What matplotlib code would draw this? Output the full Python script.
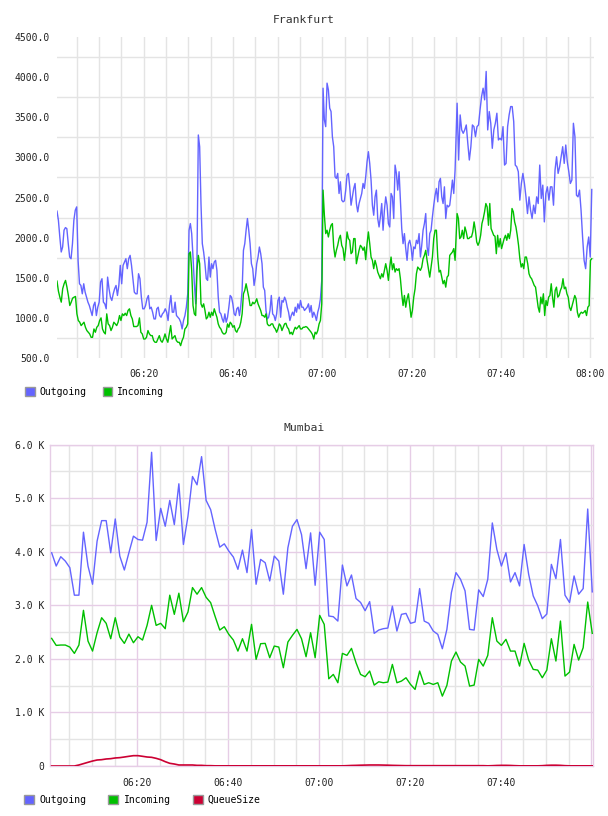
import matplotlib
matplotlib.use("Agg")
import matplotlib.pyplot as plt
from matplotlib.patches import Patch
import numpy as np

# Frankfurt: minutes after 06:00, read in four half-hour pieces
fra_windows = [(0.58, 29.85), (30.14, 59.85), (60.14, 89.7), (90.15, 120.3)]

fra_out_a = [2330, 2217, 2008, 1821, 1883, 2092, 2125, 2112, 1925, 1758, 1737, 1925, 2217, 2342, 2383,
             1717, 1425, 1404, 1300, 1425, 1321, 1258, 1196, 1154, 1092, 1029, 1154, 1196, 1029, 1133,
             1196, 1446, 1488, 1196, 1175, 1113, 1508, 1363, 1258, 1217, 1300, 1363, 1404, 1279, 1404,
             1654, 1425, 1654, 1696, 1737, 1613, 1737, 1779, 1654, 1488, 1321, 1300, 1300, 1550, 1488,
             1258, 1113, 1113, 1154, 1238, 1279, 1113, 1133, 1071, 987, 987, 1113, 1133, 1029, 1008,
             1050, 1071, 1113, 1071, 967, 1154, 1279, 1071, 1071, 1196, 1029, 1008, 987, 946, 862,
             967, 1029, 1133, 1300]
fra_out_b = [2092, 2175, 2050, 1758, 1425, 1175, 1758, 3279, 3133, 2425, 1925, 1821, 1675, 1488, 1467,
             1758, 1508, 1675, 1613, 1696, 1717, 1592, 1258, 1071, 1050, 987, 946, 1050, 946, 1008,
             1133, 1279, 1258, 1175, 1050, 1029, 1113, 1133, 1029, 1154, 1342, 1842, 1925, 2092, 2238,
             2092, 1925, 1675, 1613, 1404, 1508, 1675, 1758, 1883, 1800, 1675, 1383, 1342, 1092, 987,
             1008, 1092, 1279, 1050, 1029, 967, 1050, 1217, 1258, 1008, 1217, 1196, 1258, 1217, 1133,
             1071, 967, 1029, 1071, 1029, 1133, 1071, 1175, 1113, 1217, 1133, 1133, 1092, 1113, 1133,
             1175, 1071, 1154, 1008, 1071, 1029, 967, 1071, 1133, 1238, 1467]
fra_out_c = [3862, 3467, 3383, 3925, 3842, 3613, 3571, 3258, 3133, 2758, 2738, 2800, 2550, 2696, 2467,
             2446, 2458, 2592, 2779, 2800, 2633, 2404, 2508, 2613, 2675, 2425, 2321, 2425, 2488, 2550,
             2675, 2613, 2758, 2946, 3071, 2925, 2717, 2404, 2279, 2508, 2592, 2238, 2133, 2258, 2425,
             2092, 2342, 2508, 2404, 2175, 2133, 2550, 2508, 2238, 2904, 2800, 2592, 2821, 2467, 2113,
             1925, 2050, 1863, 1717, 1925, 1967, 1883, 1717, 1883, 1863, 1967, 1925, 2050, 1758, 1904,
             2092, 2175, 2300, 1883, 1779, 2050, 2092, 2258, 2404, 2529, 2613, 2446, 2696, 2738, 2508,
             2425, 2633, 2238, 2404, 2383, 2404, 2550, 2717, 2550, 2842]
fra_out_d = [3675, 2967, 3529, 3342, 3300, 3342, 3404, 3175, 2967, 3133, 3404, 3383, 3258, 3383, 3404,
             3592, 3758, 3862, 3717, 4071, 3342, 3571, 3425, 3113, 3342, 3425, 3550, 3217, 3238, 3217,
             3383, 2904, 2925, 3383, 3529, 3633, 3633, 3446, 2904, 2883, 2821, 2467, 2675, 2800, 2675,
             2508, 2300, 2508, 2342, 2238, 2404, 2300, 2508, 2425, 2904, 2488, 2654, 2196, 2550, 2633,
             2467, 2633, 2633, 2404, 2842, 3008, 2800, 2883, 3008, 3133, 2925, 3154, 2946, 2821, 2675,
             2717, 3425, 3258, 2529, 2508, 2592, 2342, 2008, 1717, 1613, 1883, 2008, 1758, 2600]

fra_in_a = [1458, 1333, 1258, 1196, 1363, 1425, 1467, 1383, 1279, 1154, 1196, 1246, 1258, 1267, 1050,
            967, 946, 904, 925, 946, 883, 842, 821, 800, 758, 758, 862, 821, 883, 904,
            967, 1000, 862, 821, 800, 1050, 925, 904, 842, 883, 946, 925, 904, 946, 1029,
            967, 1050, 1029, 1058, 1029, 1092, 1113, 1029, 987, 892, 892, 892, 904, 1000, 821,
            800, 737, 737, 758, 842, 800, 779, 779, 717, 696, 696, 737, 779, 717, 696,
            737, 800, 737, 696, 800, 904, 737, 758, 779, 717, 696, 696, 654, 717, 758,
            862, 883, 925]
fra_in_b = [1800, 1821, 1592, 1154, 1050, 1029, 1592, 1779, 1675, 1175, 1133, 1175, 1092, 987, 1008,
            1071, 1008, 1071, 1029, 1113, 1058, 1008, 925, 883, 862, 821, 800, 800, 821, 925,
            883, 946, 925, 883, 904, 842, 821, 862, 883, 946, 1050, 1300, 1342, 1425, 1342,
            1258, 1154, 1154, 1196, 1175, 1196, 1238, 1175, 1133, 1092, 1029, 1029, 1008, 1050, 925,
            904, 904, 925, 925, 883, 862, 821, 862, 925, 904, 842, 883, 925, 933, 883,
            862, 800, 821, 792, 842, 883, 862, 883, 904, 862, 862, 883, 883, 892, 883,
            862, 842, 821, 792, 737, 821, 800, 842, 925, 967, 1175]
fra_in_c = [2592, 2279, 2050, 2092, 2008, 2092, 2154, 2175, 1883, 1758, 1842, 1904, 1988, 2029, 1904,
            1863, 1717, 1863, 2071, 1988, 1967, 1800, 1821, 1988, 1988, 1675, 1758, 1842, 1904, 1883,
            1842, 1883, 1725, 1925, 2071, 1925, 1758, 1717, 1613, 1717, 1654, 1571, 1529, 1488, 1550,
            1508, 1592, 1675, 1592, 1467, 1633, 1758, 1600, 1675, 1571, 1613, 1592, 1613, 1488, 1300,
            1154, 1279, 1133, 1238, 1300, 1154, 1008, 1092, 1258, 1363, 1550, 1633, 1613, 1592, 1633,
            1737, 1779, 1842, 1717, 1613, 1508, 1633, 1758, 1988, 2092, 2092, 1758, 1571, 1592, 1508,
            1425, 1467, 1383, 1508, 1529, 1779, 1800, 1821, 1863, 1717]
fra_in_d = [2300, 2238, 1988, 2008, 2092, 1988, 2133, 2071, 1988, 1988, 2008, 2008, 2071, 2196, 2092,
            1946, 1904, 1946, 2029, 2175, 2238, 2321, 2425, 2383, 2154, 2425, 2113, 2071, 2029, 2017,
            1800, 2029, 1883, 1988, 1863, 1925, 1988, 2029, 1967, 2050, 1988, 2092, 2363, 2321, 2196,
            2133, 2029, 1904, 1737, 1633, 1675, 1613, 1758, 1758, 1675, 1550, 1508, 1488, 1446, 1404,
            1383, 1258, 1133, 1071, 1258, 1175, 1300, 1029, 1217, 1154, 1258, 1279, 1425, 1258, 1133,
            1342, 1383, 1258, 1279, 1342, 1383, 1488, 1363, 1383, 1300, 1258, 1133, 1092, 1154, 1217,
            1279, 1238, 1071, 1008, 1050, 1071, 1058, 1071, 1092, 1029, 1133, 1154, 1717, 1737]

# Mumbai: one sample per minute
mum_outgoing = [3982, 3734, 3908, 3827, 3704, 3190, 3190, 4366, 3734, 3394,
                4199, 4582, 4582, 3982, 4613, 3920, 3660, 3982, 4292, 4230,
                4217, 4552, 5858, 4211, 4812, 4477, 4960, 4508, 5270, 4137,
                4663, 5406, 5251, 5777, 4960, 4787, 4415, 4087, 4149, 4013,
                3902, 3673, 4032, 3611, 4415, 3394, 3858, 3796, 3456, 3920,
                3827, 3208, 4075, 4477, 4601, 4322, 3685, 4353,
                3375, 4366, 4230, 2801, 2788, 2707, 3753, 3363, 3567, 3128,
                3054, 2900, 3070, 2477, 2539, 2564, 2576, 2985, 2520, 2832,
                2850, 2664, 2689, 3313, 2707, 2664, 2520, 2458, 2190, 2551,
                3239, 3611, 3487, 3270, 2551, 2539, 3289, 3165, 3487, 4539,
                4044, 3734, 3982, 3437, 3611, 3363, 4137, 3580, 3177, 2992,
                2751, 2838, 3765, 3499, 4230, 3190, 3054, 3549, 3208, 3313,
                4799, 3252]
mum_incoming = [2383, 2252, 2259, 2259, 2221, 2103, 2259, 2907, 2333, 2146,
                2489, 2769, 2664, 2377, 2769, 2408, 2290, 2464, 2302, 2414,
                2352, 2626, 3000, 2626, 2664, 2564, 3190, 2832, 3227, 2695,
                2875, 3332, 3208, 3332, 3150, 3050, 2788, 2539, 2601, 2458,
                2352, 2146, 2377, 2146, 2645, 1991, 2284, 2290, 2022, 2240,
                2221, 1835, 2315, 2439, 2551, 2377, 2041, 2489,
                2022, 2813, 2645, 1629, 1710, 1555, 2103, 2066, 2196, 1928,
                1710, 1667, 1773, 1511, 1573, 1555, 1567, 1897, 1555, 1586,
                1648, 1523, 1430, 1773, 1523, 1555, 1523, 1555, 1305, 1505,
                1960, 2128, 1941, 1866, 1492, 1511, 1991, 1866, 2066, 2769,
                2333, 2252, 2365, 2146, 2146, 1866, 2290, 1978, 1804, 1791,
                1648, 1791, 2377, 1960, 2707, 1679, 1754, 2271, 1978, 2209,
                3062, 2477]
mum_queue = [0, 0, 0, 0, 0, 0, 19, 44, 69, 93,
             112, 118, 131, 137, 150, 156, 168, 181, 193, 193,
             181, 168, 162, 143, 118, 81, 50, 37, 19, 19,
             19, 19, 12, 12, 6, 6, 3, 3, 3, 3,
             3, 3, 3, 3, 3, 3, 3, 3, 3, 3,
             3, 3, 3, 3, 3, 3, 3, 3,
             3, 3, 3, 3, 3, 3, 3, 6, 10, 12,
             15, 17, 19, 19, 19, 17, 15, 12, 10, 8,
             6, 6, 6, 6, 6, 6, 6, 6, 6, 6,
             6, 6, 6, 6, 6, 6, 6, 6, 3, 6,
             10, 12, 12, 10, 6, 3, 3, 3, 3, 3,
             6, 12, 15, 15, 12, 6, 3, 3, 3, 3,
             3, 3]

time_ticks = [20, 40, 60, 80, 100, 120]
time_labels = ["06:20", "06:40", "07:00", "07:20", "07:40", "08:00"]
fra_yticks = [500, 1000, 1500, 2000, 2500, 3000, 3500, 4000, 4500]
mum_yticks = [0, 1000, 2000, 3000, 4000, 5000, 6000]
mum_ylabels = ["0", "1.0 K", "2.0 K", "3.0 K", "4.0 K", "5.0 K", "6.0 K"]

BLUE = "#6464ff"
GREEN = "#00c000"
RED = "#cc0033"
GRID = "#e4e4e4"
PINK = "#e6cde6"
MONO = "DejaVu Sans Mono"

plt.rcParams["font.family"] = MONO

W, H = 608, 816
fig = plt.figure(figsize=(W / 100, H / 100), dpi=100)


def chunk_series(windows, chunks):
    ts, vs = [], []
    for (t0, t1), c in zip(windows, chunks):
        ts.append(np.linspace(t0, t1, len(c)))
        vs.append(np.array(c, dtype=float))
    return np.concatenate(ts), np.concatenate(vs)


# ---- Frankfurt
ax1 = fig.add_axes([57 / W, 1 - 358 / H, 537 / W, 321 / H])
t, v = chunk_series(fra_windows, [fra_out_a, fra_out_b, fra_out_c, fra_out_d])
ax1.plot(t, v, color=BLUE, lw=1.0, zorder=3)
t, v = chunk_series(fra_windows, [fra_in_a, fra_in_b, fra_in_c, fra_in_d])
ax1.plot(t, v, color=GREEN, lw=1.0, zorder=3)
ax1.set_xlim(0.58, 120.8)
ax1.set_ylim(500, 4500)
ax1.set_yticks(fra_yticks)
ax1.set_yticklabels(["%.1f" % y for y in fra_yticks])
ax1.set_yticks([y + 250 for y in fra_yticks[:-1]], minor=True)
ax1.set_xticks(time_ticks)
ax1.set_xticklabels(time_labels)
ax1.xaxis.remove_overlapping_locs = False
ax1.set_xticks(np.arange(5, 121, 5), minor=True)
ax1.grid(False)
ax1.grid(True, which="minor", color=GRID, lw=1.0)
for s in ax1.spines.values():
    s.set_visible(False)
ax1.tick_params(which="both", length=0, labelsize=7, colors="#222222")
ax1.tick_params(axis="y", pad=5)
ax1.tick_params(axis="x", pad=8)
fig.text(0.5, 1 - 20 / H, "Frankfurt", ha="center", va="center", fontsize=8.2, color="#333333")

leg1 = fig.legend([Patch(facecolor=BLUE, edgecolor="#999999"), Patch(facecolor=GREEN, edgecolor="#999999")],
                  ["Outgoing", "Incoming"], loc="center left", bbox_to_anchor=(25 / W, 1 - 392 / H),
                  ncol=2, frameon=False, fontsize=7, handlelength=1.0, handleheight=1.0,
                  handletextpad=0.5, columnspacing=1.65, borderpad=0, borderaxespad=0)

# ---- Mumbai
ax2 = fig.add_axes([50.3 / W, 1 - 766 / H, 543 / W, 321.3 / H])
mt = np.linspace(1.15, 120.17, len(mum_outgoing))
ax2.plot(mt, mum_outgoing, color=BLUE, lw=1.0, zorder=3)
ax2.plot(mt, mum_incoming, color=GREEN, lw=1.0, zorder=3)
ax2.plot(mt, mum_queue, color=RED, lw=1.2, zorder=4)
ax2.set_xlim(0.85, 120.4)
ax2.set_ylim(0, 6000)
ax2.set_yticks(mum_yticks)
ax2.set_yticklabels(mum_ylabels)
ax2.set_yticks(np.arange(500, 6000, 1000), minor=True)
ax2.set_xticks(time_ticks)
ax2.set_xticklabels(time_labels[:-1] + [""])
ax2.set_xticks([m for m in range(5, 121, 5) if m % 20], minor=True)
ax2.grid(True, which="major", color=PINK, lw=1.0)
ax2.grid(True, which="minor", color=GRID, lw=1.0)
for s in ax2.spines.values():
    s.set_color(PINK)
    s.set_linewidth(1.0)
ax2.tick_params(which="both", length=0, labelsize=7, colors="#222222")
ax2.tick_params(axis="y", pad=4.5)
ax2.tick_params(axis="x", pad=8.5)
fig.text(0.5, 1 - 428 / H, "Mumbai", ha="center", va="center", fontsize=8.2, color="#333333")

leg2 = fig.legend([Patch(facecolor=BLUE, edgecolor="#999999"), Patch(facecolor=GREEN, edgecolor="#999999"),
                   Patch(facecolor=RED, edgecolor="#999999")],
                  ["Outgoing", "Incoming", "QueueSize"], loc="center left",
                  bbox_to_anchor=(24 / W, 1 - 800 / H), ncol=3, frameon=False, fontsize=7,
                  handlelength=1.0, handleheight=1.0, handletextpad=0.55, columnspacing=2.3,
                  borderpad=0, borderaxespad=0)

fig.savefig("out.png", dpi=100, facecolor="white")
